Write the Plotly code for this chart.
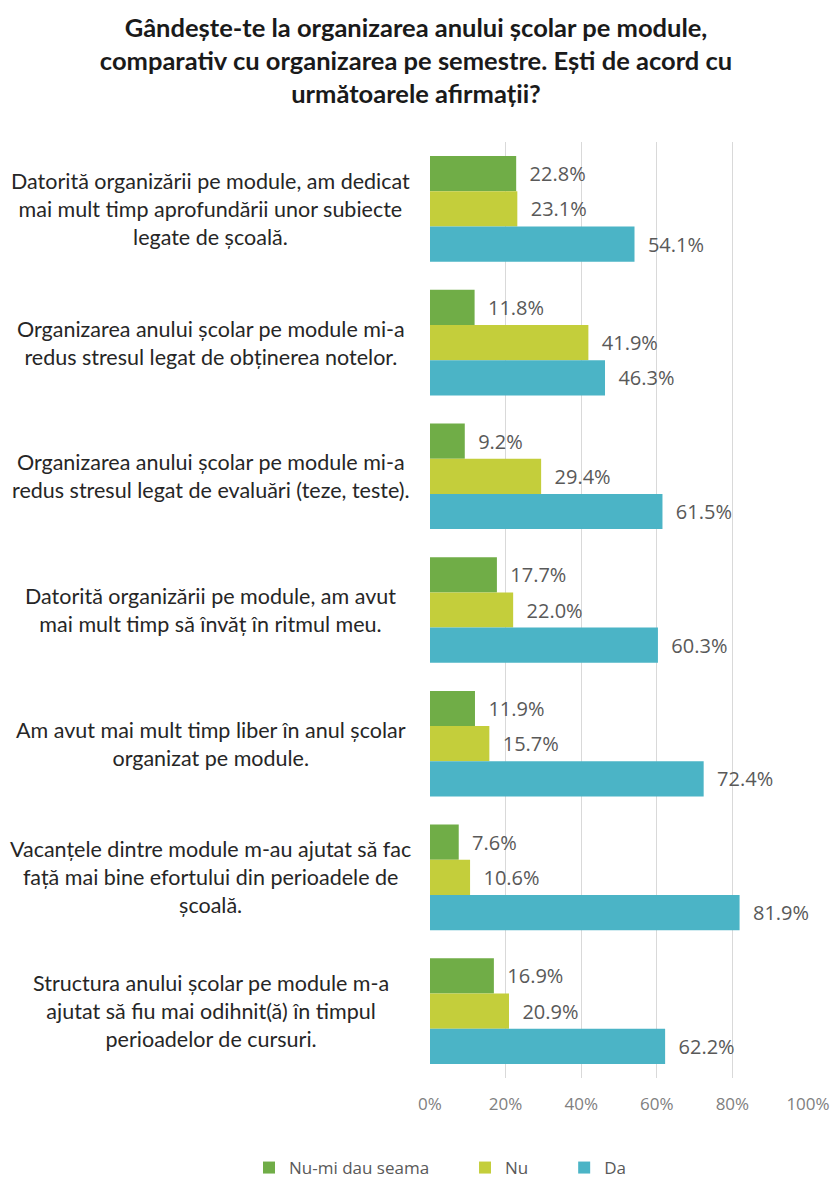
import plotly.graph_objects as go

categories = [
    "Datorită organizării pe module, am dedicat<br>mai mult timp aprofundării unor subiecte<br>legate de școală.",
    "Organizarea anului școlar pe module mi-a<br>redus stresul legat de obținerea notelor.",
    "Organizarea anului școlar pe module mi-a<br>redus stresul legat de evaluări (teze, teste).",
    "Datorită organizării pe module, am avut<br>mai mult timp să învăț în ritmul meu.",
    "Am avut mai mult timp liber în anul școlar<br>organizat pe module.",
    "Vacanțele dintre module m-au ajutat să fac<br>față mai bine efortului din perioadele de<br>școală.",
    "Structura anului școlar pe module m-a<br>ajutat să fiu mai odihnit(ă) în timpul<br>perioadelor de cursuri.",
]
series_names = ["Nu-mi dau seama", "Nu", "Da"]
nu_mi_dau_seama = [22.8, 11.8, 9.2, 17.7, 11.9, 7.6, 16.9]
nu = [23.1, 41.9, 29.4, 22.0, 15.7, 10.6, 20.9]
da = [54.1, 46.3, 61.5, 60.3, 72.4, 81.9, 62.2]
tick_values = [0, 20, 40, 60, 80, 100]
tick_labels = ["0%", "20%", "40%", "60%", "80%", "100%"]
title_text = ("Gândește-te la organizarea anului școlar pe module,<br>"
              "comparativ cu organizarea pe semestre. Ești de acord cu<br>"
              "următoarele afirmații?")

colors = ["#70AD47", "#C4CE3B", "#4BB4C6"]
ykeys = list(range(len(categories)))
pad = "\u00a0" * 7

fig = go.Figure()
for i, (name, vals, col) in enumerate(zip(series_names, [nu_mi_dau_seama, nu, da], colors)):
    fig.add_trace(go.Bar(
        y=ykeys, x=vals, name=name + (pad if i < 2 else ""), orientation="h",
        marker=dict(color=col, line=dict(width=0)),
        text=vals,
        texttemplate="\u00a0\u00a0%{x:.1f}%",
        textposition="outside",
        textfont=dict(family="Open Sans", size=20, color="#595959"),
        cliponaxis=False,
        hoverinfo="skip",
    ))

for k, lab in zip(ykeys, categories):
    fig.add_annotation(
        x=(211 - 430) / 378, xref="paper", y=k, yref="y",
        text=lab, showarrow=False, xanchor="center", yanchor="middle",
        align="center",
        font=dict(family="Lato", size=21.5, color="#262626"),
    )

fig.update_layout(
    width=832, height=1178,
    margin=dict(l=430, r=24, t=142, b=100, autoexpand=False),
    paper_bgcolor="white", plot_bgcolor="white",
    barmode="group", bargap=0.21, bargroupgap=0,
    title=dict(
        text=title_text, x=416 / 832, xanchor="center",
        y=1 - 37 / 1178, yanchor="middle", xref="container", yref="container",
        font=dict(family="Lato", size=25.5, color="#1a1a1a", weight="bold"),
    ),
    xaxis=dict(
        range=[0, 100], tickvals=tick_values, ticktext=tick_labels,
        showgrid=True, gridcolor="#D9D9D9", gridwidth=1,
        zeroline=False, showline=False, ticks="", automargin=False,
        ticklabelstandoff=14,
        tickfont=dict(family="Open Sans", size=17, color="#808080"),
    ),
    yaxis=dict(
        range=[6.5, -0.5], showticklabels=False, showgrid=False,
        zeroline=False, showline=False, ticks="", automargin=False,
    ),
    legend=dict(
        orientation="h", xref="container", x=440 / 832, xanchor="center",
        yref="container", y=1 - 1168 / 1178, yanchor="middle",
        font=dict(family="Open Sans", size=17, color="#595959"),
        traceorder="normal", itemwidth=30,
    ),
    showlegend=True,
)

fig.write_html("out.html", config={"displayModeBar": False},
               post_script="document.body.style.margin='0';document.body.style.overflow='hidden';")
